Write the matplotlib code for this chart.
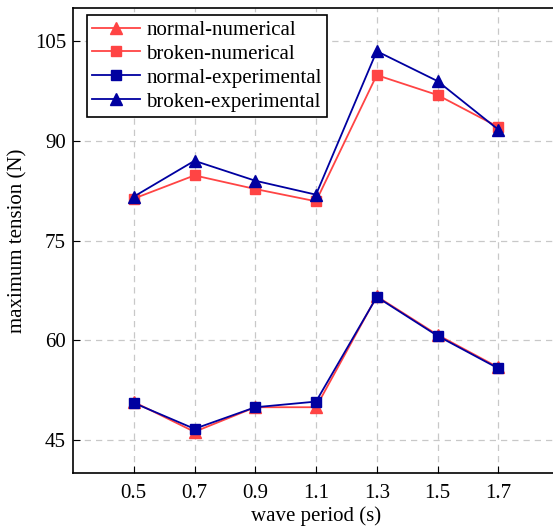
import matplotlib
matplotlib.use("Agg")
import matplotlib.pyplot as plt

# ---------------- data ----------------
periods = [0.5, 0.7, 0.9, 1.1, 1.3, 1.5, 1.7]
normal_num = [50.7, 46.2, 49.9, 49.9, 66.6, 60.8, 55.9]
broken_num = [81.3, 84.8, 82.75, 80.9, 99.9, 96.9, 92.1]
normal_exp = [50.55, 46.65, 49.9, 50.75, 66.5, 60.65, 55.75]
broken_exp = [81.6, 87.0, 84.0, 81.9, 103.5, 99.0, 91.7]
yticks = [45, 60, 75, 90, 105]

red = "#FF4444"
blue = "#0000A0"

plt.rcParams["font.family"] = ["Liberation Serif", "DejaVu Serif"]

W, H = 553, 526
fig = plt.figure(figsize=(W / 100, H / 100), dpi=100)
# axes run off the right edge of the picture, like the original crop
ax_l, ax_r, ax_t, ax_b = 73, 559, 8, 473
ax = fig.add_axes([ax_l / W, 1 - ax_b / H, (ax_r - ax_l) / W, (ax_b - ax_t) / H])

ax.plot(periods, normal_num, color=red, marker="^", markersize=8.5, lw=1.3, label="normal-numerical")
ax.plot(periods, broken_num, color=red, marker="s", markersize=7, lw=1.3, label="broken-numerical")
ax.plot(periods, normal_exp, color=blue, marker="s", markersize=7, lw=1.3, label="normal-experimental")
ax.plot(periods, broken_exp, color=blue, marker="^", markersize=8.5, lw=1.3, label="broken-experimental")

ax.set_xlim(0.3, 1.9)
ax.set_ylim(40, 110)
ax.set_xticks(periods)
ax.set_xticklabels([f"{p:.1f}" for p in periods])
ax.set_yticks(yticks)
ax.tick_params(labelsize=15, direction="in", length=5)
ax.tick_params(axis="x", pad=8)
ax.tick_params(axis="y", pad=5)
ax.grid(True, linestyle=(0, (5, 4)), color="#C8C8C8", lw=0.9)

ax.set_xlabel("wave period (s)", fontsize=15, labelpad=2)
ax.set_ylabel("maximum tension (N)", fontsize=15, labelpad=5)

for s in ax.spines.values():
    s.set_linewidth(1.2)
ax.spines["right"].set_visible(False)

# legend box: left edge at x=87, top at y=15 (pixels)
anchor = ((87 - ax_l) / (ax_r - ax_l), 1 - (15 - ax_t) / (ax_b - ax_t))
leg = ax.legend(loc="upper left", bbox_to_anchor=anchor, borderaxespad=0,
                fontsize=15, frameon=True, fancybox=False,
                edgecolor="black", framealpha=1, labelspacing=0.21,
                handlelength=2.3, handletextpad=0.3, borderpad=0.25)
leg.get_frame().set_linewidth(1.2)

fig.savefig("out.png", dpi=100)
